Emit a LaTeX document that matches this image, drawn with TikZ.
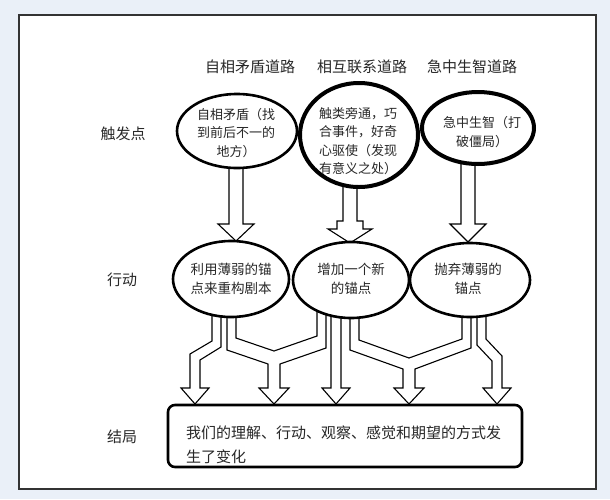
\documentclass[tikz,border=0pt]{standalone}
\usepackage{fontspec}
\newfontfamily\cjk{Noto Sans CJK SC}
\usetikzlibrary{shapes.geometric}
\definecolor{bgblue}{RGB}{234,240,248}
\definecolor{ink}{RGB}{40,40,40}
\begin{document}
\begin{tikzpicture}[x=1pt,y=-1pt,
  ell/.style={draw=black, fill=white, ellipse, inner sep=0pt},
  ttxt/.style={font=\cjk\fontsize{13}{18.5}\selectfont, align=center, inner sep=0pt, text=ink},
  mtxt/.style={font=\cjk\fontsize{13.5}{18.5}\selectfont, align=center, inner sep=0pt, text=ink},
  lbl/.style={font=\cjk\fontsize{15}{18}\selectfont, inner sep=0pt, text=ink},
  blk/.style={draw=black, fill=white, line width=1.1pt, line join=miter}]

% background and frame
\fill[bgblue] (0,0) rectangle (610,499);
\draw[fill=white, draw=black!80, line width=1.3pt] (19,15) rectangle (596,489);

% headers
\node[lbl] (h1) at (250,67) {自相矛盾道路};
\node[lbl] (h2) at (362,67) {相互联系道路};
\node[lbl] (h3) at (472,67) {急中生智道路};

% row labels
\node[lbl] (r1) at (123,134) {触发点};
\node[lbl] (r2) at (122,280) {行动};
\node[lbl] (r3) at (122,437) {结局};

% block arrows trigger -> action
\draw[blk] (229,160) -- (229,224) -- (218,224) -- (236,241) -- (254,224) -- (243,224) -- (243,160) -- cycle;
\draw[blk] (343,180) -- (343,221) -- (337,221) -- (337,229) -- (328,229) -- (350,243) -- (372,229) -- (363,229) -- (363,221) -- (357,221) -- (357,180) -- cycle;
\draw[blk] (461,155) -- (461,224) -- (450,224) -- (468,242) -- (486,224) -- (475,224) -- (475,155) -- cycle;

% block arrows action -> outcome
\draw[blk] (212,305) -- (212,341) -- (190,354) -- (190,388) -- (181,388) -- (195,404) -- (209,388) -- (200,388) -- (200,360) -- (221,347) -- (221,305) -- cycle;
\draw[blk] (227,305) -- (227,350) -- (268,364) -- (268,388) -- (259,388) -- (274,404) -- (289,388) -- (280,388) -- (280,364) -- (326,348) -- (326,305) -- (317,305) -- (317,336) -- (274,351) -- (236,338) -- (236,305) -- cycle;
\draw[blk] (331,305) -- (331,388) -- (322,388) -- (336,404) -- (350,388) -- (341,388) -- (341,305) -- cycle;
\draw[blk] (350,305) -- (350,350) -- (403,369) -- (403,388) -- (394,388) -- (409,404) -- (424,388) -- (415,388) -- (415,369) -- (471,348) -- (471,305) -- (462,305) -- (462,339) -- (409,358) -- (359,340) -- (359,305) -- cycle;
\draw[blk] (477,305) -- (477,345) -- (492,361) -- (492,388) -- (483,388) -- (497,404) -- (511,388) -- (502,388) -- (502,356) -- (486,339) -- (486,305) -- cycle;

% trigger ellipses
\node[ell, line width=2.6pt, minimum width=120, minimum height=74] (t1) at (237,131) {};
\node[ell, line width=4pt, minimum width=118, minimum height=104] (t2) at (359,135) {};
\node[ell, line width=4pt, minimum width=112, minimum height=72] (t3) at (478,128) {};
\node[ttxt] (t1t) at (236,133) {自相矛盾（找\\到前后不一的\\地方）};
\node[ttxt] (t2t) at (358,141) {触类旁通，巧\\合事件，好奇\\心驱使（发现\\有意义之处）};
\node[ttxt] (t3t) at (482,132) {急中生智（打\\破僵局）};

% action ellipses
\node[ell, line width=2.6pt, minimum width=116, minimum height=76] (m1) at (231,279) {};
\node[ell, line width=2.6pt, minimum width=116, minimum height=76] (m2) at (351,280) {};
\node[ell, line width=2.6pt, minimum width=120, minimum height=74] (m3) at (470,280) {};
\node[mtxt] (m1t) at (231,279) {利用薄弱的锚\\点来重构剧本};
\node[mtxt] (m2t) at (351,279) {增加一个新\\的锚点};
\node[mtxt] (m3t) at (468,279) {抛弃薄弱的\\锚点};

% outcome box
\node[draw=black, fill=white, rounded corners=7pt, line width=2.6pt, minimum width=354, minimum height=62, inner sep=0pt] (box) at (345,436) {};
\node[font=\cjk\fontsize{15}{24}\selectfont, align=left, anchor=west, inner sep=0pt, text=ink] (boxt) at (186,445) {我们的理解、行动、观察、感觉和期望的方式发\\生了变化};
\end{tikzpicture}
\end{document}
